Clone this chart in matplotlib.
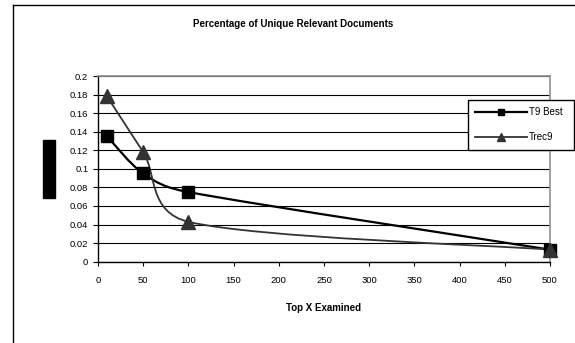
import matplotlib.pyplot as plt
from matplotlib.path import Path
from matplotlib.patches import PathPatch, Rectangle
from matplotlib.lines import Line2D
from matplotlib.ticker import FuncFormatter
import numpy as np

plt.rcParams['font.family'] = ['Liberation Sans', 'DejaVu Sans']

x_examined = [10, 50, 100, 500]
t9_best = [0.135, 0.095, 0.075, 0.013]
trec9 = [0.178, 0.118, 0.043, 0.013]

x_ticks = [0, 50, 100, 150, 200, 250, 300, 350, 400, 450, 500]
y_ticks = [0, 0.02, 0.04, 0.06, 0.08, 0.1, 0.12, 0.14, 0.16, 0.18, 0.2]

title = 'Percentage of Unique Relevant Documents'
x_title = 'Top X Examined'
names = ['T9 Best', 'Trec9']
colors = ['#000000', '#333333']

W, H = 575, 343
fig = plt.figure(figsize=(W / 100, H / 100), dpi=100)
ax = fig.add_axes([98 / W, 1 - 261.7 / H, (550 - 98) / W, (261.7 - 76) / H])
ax.set_xlim(0, 500)
ax.set_ylim(0, 0.2)
ax.set_xticks(x_ticks)
ax.set_yticks(y_ticks)
ax.yaxis.set_major_formatter(FuncFormatter(lambda v, p: '%g' % round(v, 2)))
ax.tick_params(axis='both', labelsize=6.8, color='black', width=0.8)
ax.tick_params(axis='y', length=3.5, pad=3.5)
ax.tick_params(axis='x', length=3, pad=7)
ax.grid(axis='y', color='black', linewidth=0.8)
ax.set_axisbelow(True)
for side in ['left', 'bottom']:
    ax.spines[side].set_color('black')
    ax.spines[side].set_linewidth(1)
for side in ['top', 'right']:
    ax.spines[side].set_color('#909090')
    ax.spines[side].set_linewidth(1.2)


def smooth_path(xs, ys):
    # excel style smoothed line: bezier segments, control arm capped at half segment
    pts = ax.transData.transform(np.column_stack([xs, ys]))
    n = len(pts)
    verts = [pts[0]]
    codes = [Path.MOVETO]
    for i in range(n - 1):
        p0 = pts[max(i - 1, 0)]
        p1 = pts[i]
        p2 = pts[i + 1]
        p3 = pts[min(i + 2, n - 1)]
        d12 = np.hypot(*(p2 - p1))
        d02 = np.hypot(*(p2 - p0))
        d13 = np.hypot(*(p3 - p1))
        f1 = 1 / 6 if d02 / 6 < d12 / 2 else d12 / (2 * d02)
        f2 = 1 / 6 if d13 / 6 < d12 / 2 else d12 / (2 * d13)
        c1 = p1 + (p2 - p0) * f1
        c2 = p2 - (p3 - p1) * f2
        verts += [c1, c2, p2]
        codes += [Path.CURVE4] * 3
    verts = ax.transData.inverted().transform(np.array(verts))
    return Path(verts, codes)


ax.add_patch(PathPatch(smooth_path(x_examined, t9_best), facecolor='none',
                       edgecolor=colors[0], linewidth=1.6, zorder=3))
ax.add_patch(PathPatch(smooth_path(x_examined, trec9), facecolor='none',
                       edgecolor=colors[1], linewidth=1.3, zorder=3))
ax.plot(x_examined, t9_best, linestyle='none', marker='s', markersize=9,
        color=colors[0], zorder=4, clip_on=False)
ax.plot(x_examined, trec9, linestyle='none', marker='^', markersize=10,
        color=colors[1], zorder=5, clip_on=False)

handles = [Line2D([], [], color=colors[0], linewidth=1.6, marker='s', markersize=5),
           Line2D([], [], color=colors[1], linewidth=1.3, marker='^', markersize=6)]
leg = ax.legend(handles, names, loc='upper left', mode='expand',
                bbox_to_anchor=(468 / W, 1 - 148 / H, 106 / W, 48 / H),
                bbox_transform=fig.transFigure, borderaxespad=0, fontsize=7,
                handlelength=5.3, handletextpad=0.25, labelspacing=1.55,
                borderpad=0.75, fancybox=False, framealpha=1, edgecolor='black')
leg.get_frame().set_linewidth(1)

fig.text(293 / W, 1 - 24.3 / H, title, ha='center', va='center',
         fontsize=7, fontweight='bold')
fig.text(323 / W, 1 - 308.3 / H, x_title, ha='center', va='center',
         fontsize=7, fontweight='bold')

# redacted y axis title box
fig.add_artist(Rectangle((43.3 / W, 1 - 197.7 / H), 11.7 / W, 57.7 / H,
                         transform=fig.transFigure, color='black'))

# chart area frame (cropped on the right and bottom)
fig.add_artist(Line2D([12.5 / W, 12.5 / W], [0, 1 - 5 / H], transform=fig.transFigure,
                      color='black', linewidth=1))
fig.add_artist(Line2D([12.5 / W, 1], [1 - 5 / H, 1 - 5 / H], transform=fig.transFigure,
                      color='black', linewidth=1))

fig.savefig('out.png', dpi=100)
